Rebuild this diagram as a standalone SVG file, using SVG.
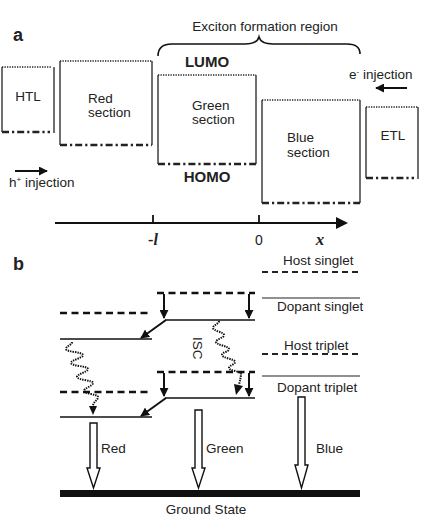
<svg xmlns="http://www.w3.org/2000/svg" width="436" height="528" viewBox="0 0 436 528">
<defs>
<style>
text{font-family:"Liberation Sans",Arial,sans-serif;fill:#222;}
.t{font-size:13.5px;}
.lbl{font-size:18px;font-weight:bold;}
.bold{font-size:15px;font-weight:bold;}
.side{stroke:#333;stroke-width:1.4;fill:none;}
.dot{stroke:#222;stroke-width:1.6;stroke-dasharray:1.3 1.2;fill:none;}
.dd{stroke:#222;stroke-width:2.6;stroke-dasharray:7 3 2.2 3;fill:none;}
.ln{stroke:#111;stroke-width:1.6;fill:none;}
.thin{stroke:#222;stroke-width:1.1;fill:none;}
.dash{stroke:#111;stroke-width:2.6;stroke-dasharray:7 4.5;fill:none;}
.dashs{stroke:#222;stroke-width:2;stroke-dasharray:6 4;fill:none;}
.arr{stroke:#111;stroke-width:2;fill:none;marker-end:url(#ah);}
.wave{stroke:#111;stroke-width:2;stroke-dasharray:1.4 1;fill:none;}
.hollow{stroke:#111;stroke-width:1.4;fill:#fff;}
</style>
<marker id="ah" viewBox="0 0 10 10" refX="9" refY="5" markerWidth="4.5" markerHeight="4.5" orient="auto" markerUnits="strokeWidth">
<path d="M0,0 L10,5 L0,10 z" fill="#111"/>
</marker>
</defs>

<!-- Part a -->
<text class="lbl" x="13" y="41">a</text>
<text class="t" x="265" y="31" text-anchor="middle">Exciton formation region</text>
<path class="ln" d="M158,56 Q158,44 172,44 L245,44 Q257,44 259,37 Q261,44 273,44 L347,44 Q360,44 360,54"/>

<g id="htl">
<path class="side" d="M2,67 V132"/>
<path class="dot" d="M2,67 H52"/>
<path class="dd" d="M2,132 H50"/>
<path class="side" d="M54,67 V133"/>
<text class="t" x="28" y="101" text-anchor="middle">HTL</text>
</g>

<g id="red-section">
<path class="side" d="M60,61 V145 M152,61 V145"/>
<path class="dot" d="M60,61 H152"/>
<path class="dd" d="M60,145 H152"/>
<text class="t" x="88" y="103">Red</text>
<text class="t" x="88" y="117">section</text>
</g>

<g id="green-section">
<path class="side" d="M158,75 V164 M256,75 V164"/>
<path class="dot" d="M158,75 H256"/>
<path class="dd" d="M158,164 H256"/>
<text class="t" x="192" y="110">Green</text>
<text class="t" x="192" y="124">section</text>
<text class="bold" x="207" y="67" text-anchor="middle">LUMO</text>
<text class="bold" x="207" y="182" text-anchor="middle">HOMO</text>
</g>

<g id="blue-section">
<path class="side" d="M262,100 V203 M360,100 V203"/>
<path class="dot" d="M262,100 H360"/>
<path class="dd" d="M262,203 H360"/>
<text class="t" x="287" y="142">Blue</text>
<text class="t" x="287" y="157">section</text>
</g>

<g id="etl">
<path class="side" d="M366,107 V178 M418,107 V179"/>
<path class="dot" d="M366,107 H418"/>
<path class="dd" d="M366,178 H414"/>
<text class="t" x="393" y="140" text-anchor="middle">ETL</text>
</g>

<g id="injection">
<text class="t" x="349" y="79" font-size="13">e<tspan font-size="8" dy="-5">-</tspan><tspan dy="5"> injection</tspan></text>
<text class="t" x="9" y="187" font-size="13">h<tspan font-size="8" dy="-5">+</tspan><tspan dy="5"> injection</tspan></text>
</g>

<g id="connectors-a">
<line class="arr" x1="407" y1="88" x2="376" y2="88"/>
<line class="arr" x1="15" y1="171" x2="47" y2="171"/>
<line stroke="#111" stroke-width="1.8" x1="55" y1="223" x2="338" y2="223"/>
<path d="M336,217 L348,223 L336,229 z" fill="#111"/>
<line stroke="#111" stroke-width="1.8" x1="153" y1="215" x2="153" y2="223"/>
<line stroke="#111" stroke-width="1.8" x1="259" y1="215" x2="259" y2="223"/>
</g>
<text x="153" y="245" text-anchor="middle" style="font-family:'Liberation Serif',serif;font-size:16px;font-weight:bold;">-<tspan font-style="italic">l</tspan></text>
<text x="259" y="245" text-anchor="middle" font-size="14">0</text>
<text x="320" y="245" text-anchor="middle" style="font-family:'Liberation Serif',serif;font-size:17px;font-weight:bold;font-style:italic;">x</text>

<!-- Part b -->
<text class="lbl" x="13" y="270">b</text>

<g id="blue-levels">
<text class="t" x="283" y="265">Host singlet</text>
<path class="dashs" d="M262,272 H360"/>
<path class="thin" d="M262,298 H360"/>
<text class="t" x="277" y="311">Dopant singlet</text>
<text class="t" x="284" y="350">Host triplet</text>
<path class="dashs" d="M262,354 H360"/>
<path class="thin" d="M262,376 H360"/>
<text class="t" x="277" y="392">Dopant triplet</text>
</g>

<g id="green-levels">
<path class="dash" d="M157,293 H255"/>
<path class="ln" d="M165,320 H255"/>
<path class="dash" d="M157,372 H255"/>
<path class="ln" d="M165,398 H255"/>
<text class="t" x="0" y="0" transform="translate(193,337) rotate(90)">ISC</text>
</g>

<g id="red-levels">
<path class="dash" d="M60,313 H152"/>
<path class="ln" d="M60,339 H152"/>
<path class="dash" d="M60,392 H152"/>
<path class="ln" d="M60,417 H152"/>
</g>

<g id="connectors-b">
<line class="arr" x1="164" y1="294" x2="164" y2="318"/>
<line class="arr" x1="249" y1="294" x2="249" y2="318"/>
<line class="arr" x1="164" y1="373" x2="164" y2="396"/>
<line class="arr" x1="249" y1="373" x2="249" y2="396"/>
<line class="arr" x1="166" y1="320" x2="141" y2="338"/>
<line class="arr" x1="166" y1="398" x2="141" y2="416"/>
<path class="wave" d="M72,342 C72,345 66,346 66,349 C66,352 83,352 83,355 C83,358 71,360 71,363 C71,366 88,366 88,369 C88,372 77,374 77,377 C77,380 93,380 93,383 C93,386 84,388 84,391 C84,394 98,394 98,397 C98,400 93,402 93,406 L93,408"/>
<path d="M89,406 L93,415 L97,406 z" fill="#111"/>
<path class="wave" d="M219,321 C219,324 213,325 213,328 C213,331 224,332 224,335 C224,338 216,339 216,342 C216,345 229,346 229,349 C229,352 222,352 222,355 C222,358 235,359 235,362 C235,365 229,365 229,368 C229,371 241,371 241,374 C241,377 240,380 239,385"/>
<path d="M234,384 L236,395 L243,386 z" fill="#111"/>
</g>

<g id="emission">
<path class="hollow" d="M90,423 H97 V468 H100 L93.5,488 L87,468 H90 z"/>
<text class="t" x="101" y="453">Red</text>
<path class="hollow" d="M195,410 H202 V468 H205 L198.5,488 L192,468 H195 z"/>
<text class="t" x="206" y="453">Green</text>
<path class="hollow" d="M298,397 H305 V465 H308 L301.5,488 L295,465 H298 z"/>
<text class="t" x="316" y="453">Blue</text>
</g>

<g id="ground-state">
<rect x="60" y="490" width="300" height="7" fill="#111"/>
<text class="t" x="206" y="514" text-anchor="middle">Ground State</text>
</g>
</svg>
